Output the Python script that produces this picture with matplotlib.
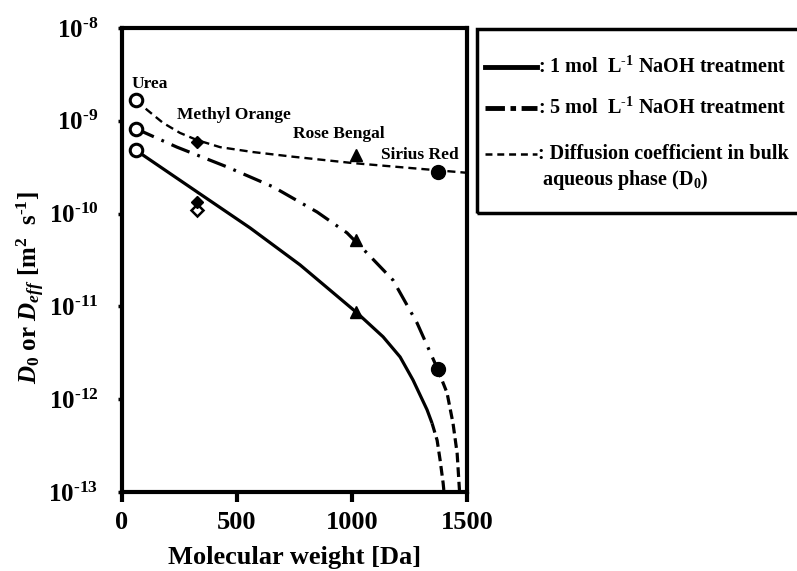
import numpy as np
import matplotlib
matplotlib.use('Agg')
import matplotlib.pyplot as plt
from matplotlib.lines import Line2D
from matplotlib.patches import Rectangle

plt.rcParams['font.family'] = 'Liberation Serif'
plt.rcParams['font.weight'] = 'bold'
plt.rcParams['mathtext.fontset'] = 'custom'
plt.rcParams['mathtext.rm'] = 'Liberation Serif:bold'
plt.rcParams['mathtext.it'] = 'Liberation Serif:bold:italic'
plt.rcParams['mathtext.bf'] = 'Liberation Serif:bold'
plt.rcParams['lines.scale_dashes'] = False

# molecular weights of the probe molecules [Da]
names = ['Urea', 'Methyl Orange', 'Rose Bengal', 'Sirius Red']
mw = [60, 327, 1017, 1373]

# measured / calculated coefficients [m2/s]
d0_pts = [1.68e-9, 5.9e-10, 4.3e-10, 2.8e-10]
d5_pts = [8.1e-10, 1.33e-10, 5.2e-11, 2.1e-12]
d1_pts = [4.8e-10, 1.1e-10, 8.7e-12]

# fitted curves
d0_mw = [61, 109, 178, 252, 326, 426, 570, 743, 1004, 1252, 1500]
d0_val = [1.68e-9, 1.31e-9, 9.5e-10, 7.4e-10, 6.2e-10, 5.2e-10, 4.6e-10, 4.1e-10, 3.5e-10, 3.1e-10, 2.75e-10]

c1_mw = [61, 209, 339, 557, 774, 1022, 1135, 1209, 1265, 1326, 1348]
c1_val = [4.8e-10, 2.7e-10, 1.63e-10, 7.0e-11, 2.8e-11, 8.5e-12, 4.7e-12, 2.85e-12, 1.61e-12, 7.7e-13, 5.5e-13]
c1x_mw = [1348, 1370, 1383, 1396, 1399]
c1x_val = [5.5e-13, 3.6e-13, 2.2e-13, 1.25e-13, 1.05e-13]

c5_mw = [61, 239, 457, 657, 848, 978, 1065, 1178, 1283, 1370]
c5_val = [8.2e-10, 5.2e-10, 3.18e-10, 1.94e-10, 1.04e-10, 6.2e-11, 3.76e-11, 1.92e-11, 6.6e-12, 2.17e-12]
c5x_mw = [1370, 1413, 1439, 1457, 1465, 1467]
c5x_val = [2.17e-12, 1.17e-12, 5.5e-13, 2.6e-13, 1.25e-13, 1.05e-13]

label_mw = [43, 239, 743, 1126]
label_d = [2.5e-9, 1.15e-9, 7.2e-10, 4.3e-10]

yticks = [1e-13, 1e-12, 1e-11, 1e-10, 1e-9, 1e-8]
ytick_labels = [r'10$^{\text{-}13}$', r'10$^{\text{-}12}$', r'10$^{\text{-}11}$',
                r'10$^{\text{-}10}$', r'10$^{\text{-}9}$', r'10$^{\text{-}8}$']

fig = plt.figure(figsize=(7.97, 5.71), dpi=100)
ax = fig.add_axes([0.1531, 0.1384, 0.4329, 0.8126])

DASH = (0, (5.8, 3.6))
DASHDOT = (0, (14, 6, 2, 6))
THICKDASH = (0, (7, 3.5))

ax.plot(d0_mw, d0_val, color='k', lw=1.7, linestyle=DASH)
ax.plot(c1_mw, c1_val, color='k', lw=2.3, solid_capstyle='butt')
ax.plot(c1x_mw, c1x_val, color='k', lw=2.3, linestyle=THICKDASH)
ax.plot(c5_mw, c5_val, color='k', lw=2.3, linestyle=DASHDOT)
ax.plot(c5x_mw, c5x_val, color='k', lw=2.3, linestyle=THICKDASH)

# urea: open circles
for v in [d0_pts[0], d5_pts[0], d1_pts[0]]:
    ax.plot(mw[0], v, 'o', ms=9, mfc='white', mec='k', mew=2.2)
# methyl orange
ax.plot(mw[1], d1_pts[1], 'D', ms=6.5, mfc='white', mec='k', mew=1.8)
ax.plot(mw[1], d5_pts[1], 'D', ms=6.5, color='k')
ax.plot(mw[1], d0_pts[1], 'D', ms=6.5, color='k')
# rose bengal
for v in [d0_pts[2], d5_pts[2], d1_pts[2]]:
    ax.plot(mw[2], v, '^', ms=8.5, color='k')
# sirius red
for v in [d0_pts[3], d5_pts[3]]:
    ax.plot(mw[3], v, 'o', ms=10, color='k')

for n, x, y in zip(names, label_mw, label_d):
    ax.text(x, y, n, fontsize=12.5, fontweight='bold', ha='left', va='center')

ax.set_yscale('log')
ax.set_xlim(0, 1500)
ax.set_ylim(1e-13, 1e-8)
ax.set_xticks([0, 500, 1000, 1500])
ax.set_xticklabels(['0', '500', '1000', '1500'])
ax.set_yticks(yticks)
ax.set_yticklabels(ytick_labels)
ax.minorticks_off()
ax.tick_params(axis='x', direction='out', length=7, width=3, labelsize=19, pad=7)
ax.tick_params(axis='y', direction='out', length=3, width=2.5, labelsize=18, pad=14)
for s in ax.spines.values():
    s.set_linewidth(3)

ax.set_xlabel('Molecular weight [Da]', fontsize=19, fontweight='bold', labelpad=8)
ax.set_ylabel(r'$D_{\mathit{0}}$ or $D_{eff}$ [m$^2$  s$^{\text{-}1}$]', fontsize=18, fontweight='bold')
ax.yaxis.set_label_coords(-0.218, 0.44)

# legend box (runs off the right edge)
W, H = 797.0, 571.0
fig.patches.append(Rectangle((477 / W, 1 - 213 / H), 340 / W, 184 / H, transform=fig.transFigure,
                             fill=False, lw=2.5, ec='k', clip_on=False))
entries = [
    (67, dict(lw=3.5, linestyle='-'), r': 1 mol  L$^{\text{-}1}$ NaOH treatment'),
    (108, dict(lw=3.5, linestyle=(0, (14, 4, 4, 4))), r': 5 mol  L$^{\text{-}1}$ NaOH treatment'),
    (154, dict(lw=1.8, linestyle=(0, (5, 3.5))), ': Diffusion coefficient in bulk'),
]
for yy, st, txt in entries:
    fig.add_artist(Line2D([485 / W, 537 / W], [1 - yy / H] * 2, transform=fig.transFigure, color='k', **st))
    fig.text(538 / W, 1 - yy / H, txt, fontsize=14.5, fontweight='bold', va='center', ha='left')
fig.text(542 / W, 1 - 180 / H, r'aqueous phase (D$_0$)', fontsize=14.5, fontweight='bold', va='center', ha='left')

fig.savefig('out.png', dpi=100)
